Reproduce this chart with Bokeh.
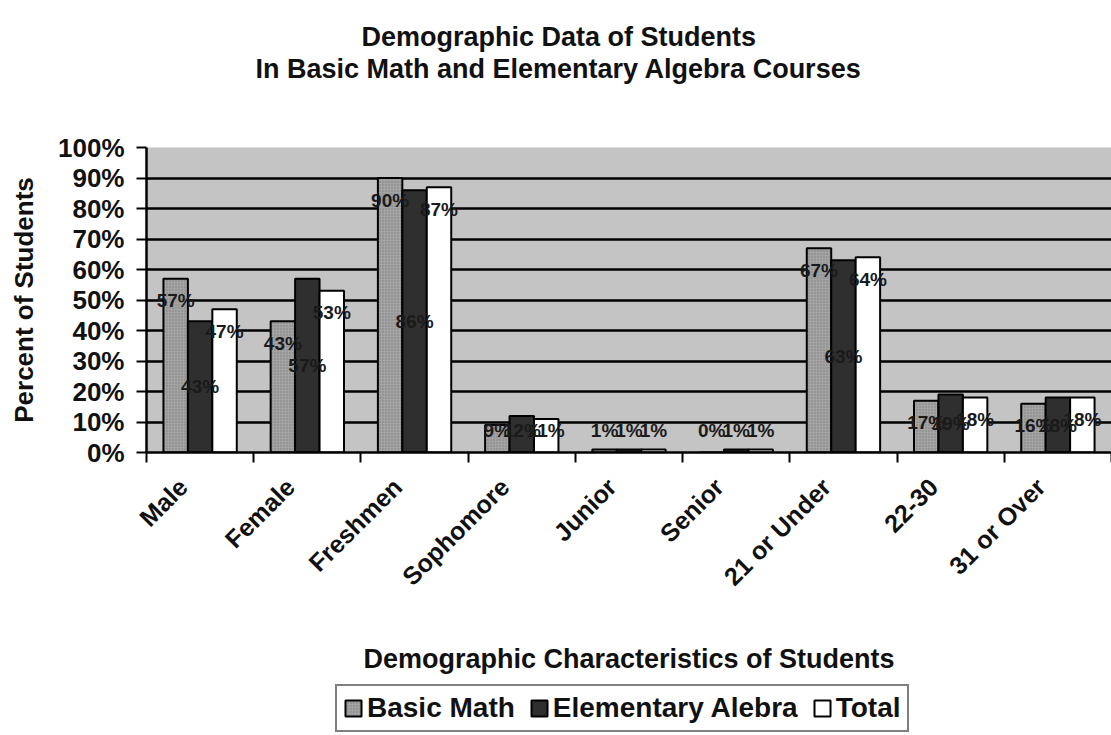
from bokeh.plotting import figure
from bokeh.models import (Range1d, FixedTicker, PrintfTickFormatter, Legend, LegendItem,
                          Title, ColumnDataSource)
from bokeh.layouts import column
from bokeh.core.properties import value
from bokeh.embed import file_html
from bokeh.resources import INLINE
import math

categories = ["Male", "Female", "Freshmen", "Sophomore", "Junior", "Senior",
              "21 or Under", "22-30", "31 or Over"]
basic_math = [57, 43, 90, 9, 1, 0, 67, 17, 16]
elementary = [43, 57, 86, 12, 1, 1, 63, 19, 18]
total = [47, 53, 87, 11, 1, 1, 64, 18, 18]
series_names = ["Basic Math", "Elementary Alebra", "Total"]
y_ticks = list(range(0, 101, 10))
title_lines = ["Demographic Data of Students",
               "In Basic Math and Elementary Algebra Courses"]

FONT = "Liberation Sans"
n = len(categories)
centers = [i + 0.5 for i in range(n)]
bw = 0.228
offsets = [-bw, 0.0, bw]
fills = ["#a3a3a3", "#2f2f2f", "#ffffff"]
hatch = dict(hatch_pattern="dot", hatch_color="#7f7f7f", hatch_scale=3, hatch_weight=1)
series = [basic_math, elementary, total]

p = figure(width=1111, height=680, output_backend="svg", toolbar_location=None,
           x_range=Range1d(0, n), y_range=Range1d(0, 100),
           min_border_left=146, min_border_right=0, min_border_top=147,
           min_border_bottom=228)
p.title.visible = False
p.background_fill_color = "#c4c4c4"
p.border_fill_color = "white"
p.outline_line_color = None

# titles (spacer nearest the frame, then line 2, then line 1)
spacer_top = Title(text=" ", text_font_size="20px", standoff=40)
t2 = Title(text=title_lines[1], align="left", offset=109, standoff=0,
           text_font=FONT, text_font_style="bold", text_font_size="27px",
           text_color="#111111")
t1 = Title(text=title_lines[0], align="left", offset=215, standoff=0,
           text_font=FONT, text_font_style="bold", text_font_size="27px",
           text_color="#111111")
p.add_layout(spacer_top, "above")
p.add_layout(t2, "above")
p.add_layout(t1, "above")

# x axis: labels under category centres, ticks on category boundaries
label_pos = [c - 0.16 for c in centers]
xa = p.xaxis[0]
xa.ticker = FixedTicker(ticks=label_pos, minor_ticks=list(range(n + 1)))
xa.major_label_overrides = {c: lab for c, lab in zip(label_pos, categories)}
xa.major_label_orientation = math.pi / 4
xa.major_tick_out = 0
xa.major_tick_in = 0
xa.minor_tick_out = 10
xa.minor_tick_in = 0
xa.minor_tick_line_color = "black"
xa.minor_tick_line_width = 2
xa.axis_line_color = "black"
xa.axis_line_width = 2.5
xa.major_label_text_font = FONT
xa.major_label_text_font_style = "bold"
xa.major_label_text_font_size = "25px"
xa.major_label_text_color = "#111111"
xa.major_label_standoff = 20
xa.axis_label = "Demographic Characteristics of Students"
xa.axis_label_text_font = FONT
xa.axis_label_text_font_style = "bold"
xa.axis_label_text_font_size = "27px"
xa.axis_label_text_color = "#111111"
xa.axis_label_standoff = 40

# y axis
ya = p.yaxis[0]
ya.ticker = FixedTicker(ticks=y_ticks)
ya.formatter = PrintfTickFormatter(format="%d%%")
ya.major_tick_out = 10
ya.major_tick_in = 0
ya.minor_tick_out = 0
ya.minor_tick_in = 0
ya.major_tick_line_color = "black"
ya.major_tick_line_width = 2
ya.axis_line_color = "black"
ya.axis_line_width = 2.5
ya.major_label_text_font = FONT
ya.major_label_text_font_style = "bold"
ya.major_label_text_font_size = "26px"
ya.major_label_text_color = "#111111"
ya.major_label_standoff = 12
ya.axis_label = "Percent of Students"
ya.axis_label_text_font = FONT
ya.axis_label_text_font_style = "bold"
ya.axis_label_text_font_size = "26px"
ya.axis_label_text_color = "#111111"
ya.axis_label_standoff = 16

p.xgrid.visible = False
p.ygrid.ticker = FixedTicker(ticks=y_ticks)
p.ygrid.grid_line_color = "black"
p.ygrid.grid_line_width = 2.5

# bars
for k, vals in enumerate(series):
    src = ColumnDataSource(dict(x=[c + offsets[k] for c in centers], top=vals))
    kw = hatch if k == 0 else {}
    p.vbar(x="x", top="top", width=bw, bottom=0, source=src,
           fill_color=fills[k], line_color="black", line_width=2, **kw)

# data labels (inside end for Basic Math and Total, centred for Elementary)
for k, vals in enumerate(series):
    xs = [c + offsets[k] for c in centers]
    if k == 1:
        ys = [max(v / 2, 7.2) for v in vals]
        yoff = 0
    else:
        ys = [max(v, 14.4) for v in vals]
        yoff = 22
    p.text(x=xs, y=ys, text=[f"{v}%" for v in vals], text_align="center",
           text_baseline="middle", text_font=value(FONT), text_font_style="bold",
           text_font_size="19px", text_color="#1a1a1a", y_offset=yoff)

# legend strip below the chart; its ranges keep its own bars out of view
q = figure(width=1111, height=55, output_backend="svg", toolbar_location=None,
           x_range=Range1d(-20, -19), y_range=Range1d(200, 201),
           x_axis_type=None, y_axis_type=None,
           min_border_left=0, min_border_right=0, min_border_top=0, min_border_bottom=0)
q.title.visible = False
q.outline_line_color = None
q.xgrid.visible = False
q.ygrid.visible = False
q.background_fill_color = "white"
q.border_fill_color = "white"
leg_renderers = []
for k, vals in enumerate(series):
    kw = hatch if k == 0 else {}
    src = ColumnDataSource(dict(x=[c + offsets[k] for c in centers], top=vals))
    r = q.vbar(x="x", top="top", width=bw, bottom=0, source=src,
               fill_color=fills[k], line_color="black", line_width=2, **kw)
    leg_renderers.append(r)

legend = Legend(items=[LegendItem(label=nm, renderers=[r]) for nm, r in zip(series_names, leg_renderers)],
                orientation="horizontal", location=(189, 3))
legend.label_text_font = FONT
legend.label_text_font_style = "bold"
legend.label_text_font_size = "28px"
legend.label_text_color = "#111111"
legend.glyph_width = 20
legend.glyph_height = 20
legend.label_standoff = 4
legend.spacing = 14
legend.padding = 6
legend.margin = 0
legend.border_line_color = "black"
legend.border_line_width = 2
legend.background_fill_color = "white"
legend.background_fill_alpha = 1
q.add_layout(legend, "center")

layout = column(p, q, spacing=0)
open("out.html", "w").write(file_html(layout, INLINE))
